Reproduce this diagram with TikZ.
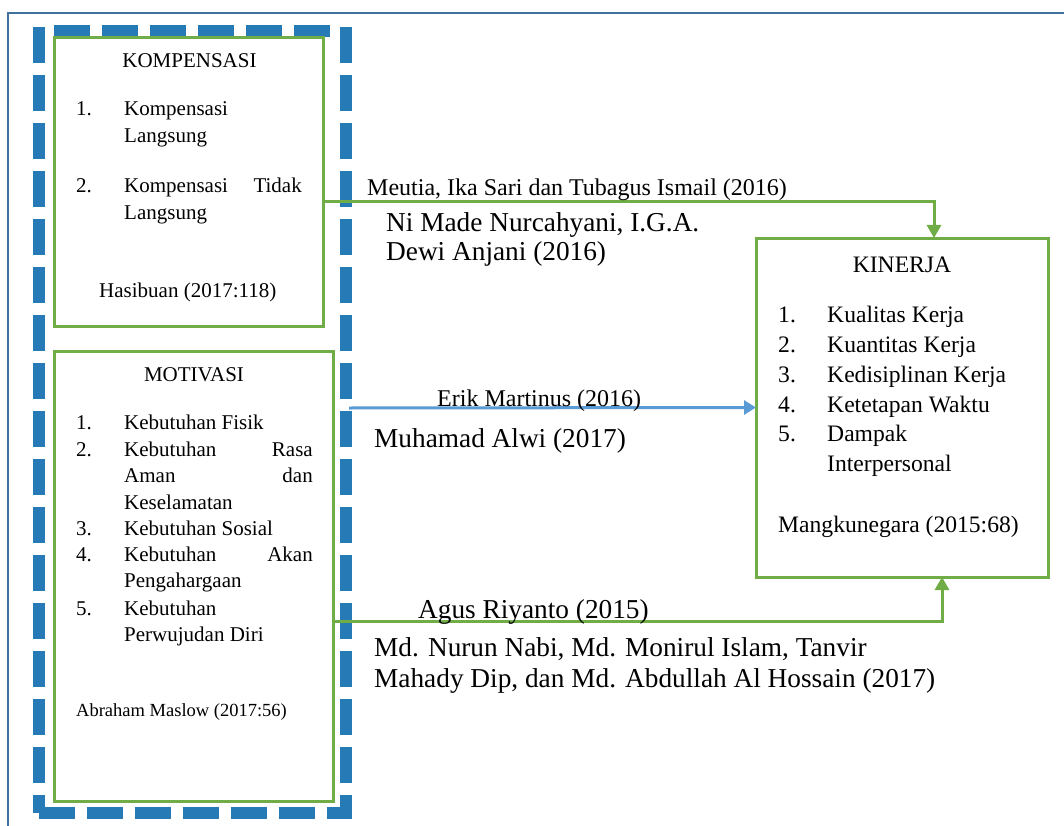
\documentclass[tikz,border=0pt]{standalone}
\usepackage{fontspec}
\setmainfont{Liberation Serif}
\usetikzlibrary{arrows.meta,calc}
\definecolor{gr}{HTML}{70AD47}
\definecolor{dashblue}{RGB}{38,122,182}
\definecolor{arrblue}{HTML}{5B9BD5}
\definecolor{frameblue}{HTML}{41719C}
\newcommand{\fszA}{\fontsize{21}{25}\selectfont}
\newcommand{\fszB}{\fontsize{18.5}{22}\selectfont}
\newcommand{\fszC}{\fontsize{23.6}{28}\selectfont}
\newcommand{\fszD}{\fontsize{24}{28}\selectfont}
\newcommand{\fszE}{\fontsize{27.3}{31}\selectfont}
\begin{document}
\begin{tikzpicture}[x=1pt,y=-1pt,
  gbox/.style={draw=gr,line width=3pt,inner sep=0pt,outer sep=0pt,anchor=north west},
  txt/.style={anchor=base west,inner sep=0pt},
  txe/.style={anchor=base east,inner sep=0pt},
  txc/.style={anchor=base,inner sep=0pt},
  gconn/.style={draw=gr,line width=3pt,-{Triangle[width=14pt,length=13pt]}},
  bconn/.style={draw=arrblue,line width=3pt,-{Triangle[width=14pt,length=12pt]}},
  dashln/.style={draw=dashblue,line width=12pt,dash pattern=on 36pt off 12pt}]
\useasboundingbox (0,0) rectangle (1064,826);
\fill[white] (0,0) rectangle (1064,826);
% outer frame
\draw[frameblue,line width=2pt] (8,826) -- (8,13) -- (1064,13);
% dashed group frame
\draw[dashln] (39,27) -- (39,813);
\draw[dashln] (346,27) -- (346,819);
\draw[dashln] (54,31) -- (340,31);
\draw[dashln] (39,813) -- (352,813);
% boxes
\node[gbox,minimum width=269pt,minimum height=288pt] (komp) at (54,38) {};
\node[gbox,minimum width=279pt,minimum height=450pt] (motiv) at (54,351) {};
\node[gbox,minimum width=292pt,minimum height=339pt] (kin) at (756,238) {};
% KOMPENSASI text
\begin{scope}[every node/.style={font=\fszA}]
\node[txc] (kt) at (189.5,68) {KOMPENSASI};
\node[txt] (k1n) at (76,116) {1.};
\node[txt] (k1a) at (124,116) {Kompensasi};
\node[txt] (k1b) at (124,143) {Langsung};
\node[txt] (k2n) at (76,193) {2.};
\node[txt] (k2a) at (124,193) {Kompensasi};
\node[txe] (k2c) at (302,193) {Tidak};
\node[txt] (k2b) at (124,220) {Langsung};
\node[txt] (ksrc) at (99,297) {Hasibuan (2017:118)};
% MOTIVASI text
\node[txc] (mt) at (194,381) {MOTIVASI};
\node[txt] (m1n) at (76,429) {1.};
\node[txt] (m1a) at (124,429) {Kebutuhan Fisik};
\node[txt] (m2n) at (76,456) {2.};
\node[txt] (m2a) at (124,456) {Kebutuhan};
\node[txe] (m2c) at (313,456) {Rasa};
\node[txt] (m2b) at (124,482) {Aman};
\node[txe] (m2d) at (313,482) {dan};
\node[txt] (m2e) at (124,509) {Keselamatan};
\node[txt] (m3n) at (76,535) {3.};
\node[txt] (m3a) at (124,535) {Kebutuhan Sosial};
\node[txt] (m4n) at (76,561) {4.};
\node[txt] (m4a) at (124,561) {Kebutuhan};
\node[txe] (m4c) at (313,561) {Akan};
\node[txt] (m4b) at (124,587) {Pengahargaan};
\node[txt] (m5n) at (76,615) {5.};
\node[txt] (m5a) at (124,615) {Kebutuhan};
\node[txt] (m5b) at (124,641) {Perwujudan Diri};
\end{scope}
\node[txt,font=\fszB] (msrc) at (76,716) {Abraham Maslow (2017:56)};
% KINERJA text
\begin{scope}[every node/.style={font=\fszC}]
\node[txc] (kit) at (902,272) {KINERJA};
\node[txt] (i1n) at (778,322) {1.};
\node[txt] (i1a) at (827,322) {Kualitas Kerja};
\node[txt] (i2n) at (778,352) {2.};
\node[txt] (i2a) at (827,352) {Kuantitas Kerja};
\node[txt] (i3n) at (778,382) {3.};
\node[txt] (i3a) at (827,382) {Kedisiplinan Kerja};
\node[txt] (i4n) at (778,412) {4.};
\node[txt] (i4a) at (827,412) {Ketetapan Waktu};
\node[txt] (i5n) at (778,441) {5.};
\node[txt] (i5a) at (827,441) {Dampak};
\node[txt] (i5b) at (827,471) {Interpersonal};
\node[txt] (isrc) at (778,532) {Mangkunegara (2015:68)};
\end{scope}
% connectors
\coordinate (es) at (349,408);
\draw[gconn] ([yshift=-20pt]komp.east) -| ([xshift=32pt]kin.north);
\draw[bconn] (es) -- (kin.west);
\draw[gconn] ([yshift=-45pt]motiv.east) -| ([xshift=40pt]kin.south);
% connector labels
\node[txt,font=\fszD] (l1) at (367,196) {Meutia, Ika Sari dan Tubagus Ismail (2016)};
\node[txt,font=\fszE] (l2a) at (386,232) {Ni Made Nurcahyani, I.G.A.};
\node[txt,font=\fszE] (l2b) at (386,260) {Dewi Anjani (2016)};
\node[txt,font=\fszD] (l3) at (437,406) {Erik Martinus (2016)};
\node[txt,font=\fszE] (l4) at (374,447) {Muhamad Alwi (2017)};
\node[txt,font=\fszE] (l5) at (418,618) {Agus Riyanto (2015)};
\node[txt,font=\fszE] (l6a) at (374,656) {Md. Nurun Nabi, Md. Monirul Islam, Tanvir};
\node[txt,font=\fszE] (l6b) at (374,687) {Mahady Dip, dan Md. Abdullah Al Hossain (2017)};
\end{tikzpicture}
\end{document}
